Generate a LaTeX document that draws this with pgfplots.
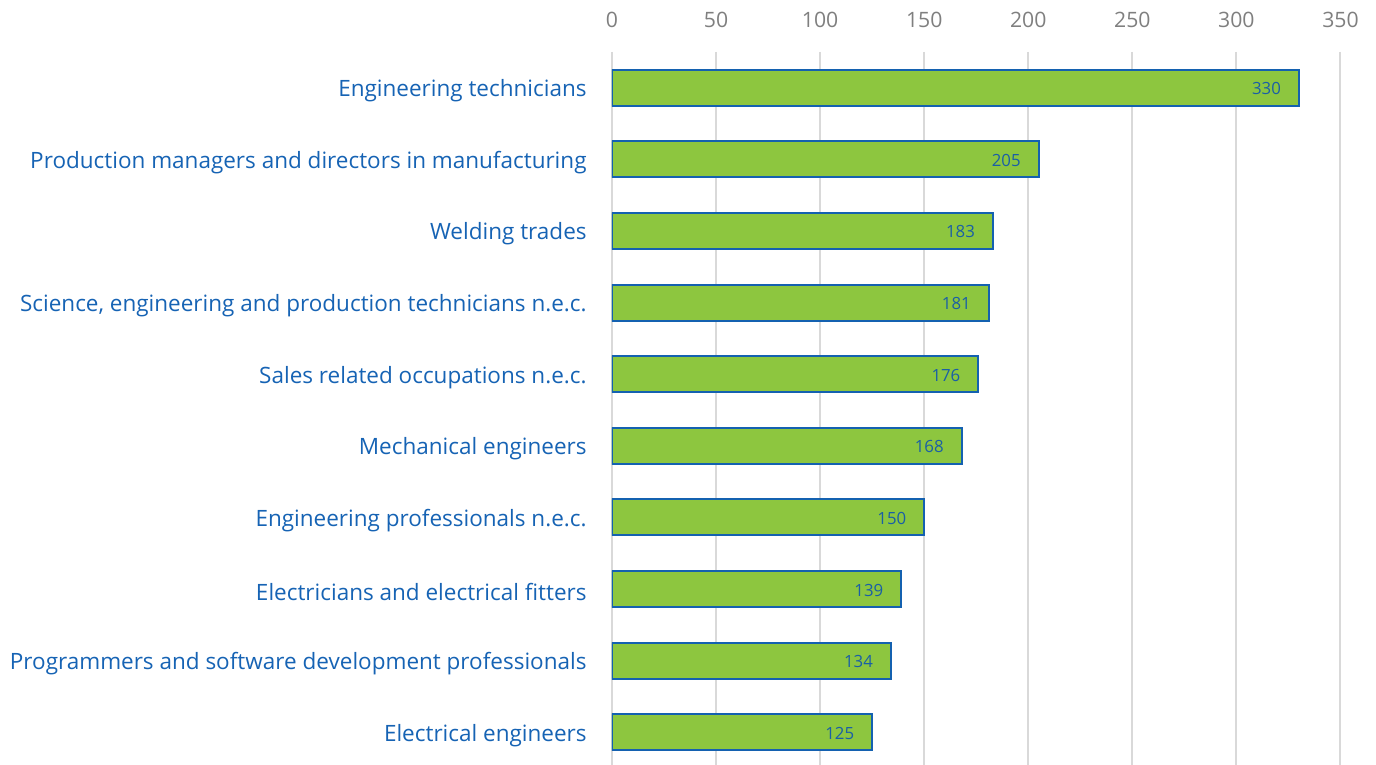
\documentclass[border=0pt]{standalone}
\usepackage{pgfplots}
\pgfplotsset{compat=1.18}
\usepackage{fontspec}
\setmainfont{Open Sans}
\definecolor{barfill}{HTML}{8DC63F}
\definecolor{barline}{HTML}{1461B0}
\definecolor{labblue}{HTML}{1663B4}
\definecolor{datblue}{HTML}{1A5FA6}
\definecolor{gridgray}{HTML}{D9D9D9}
\definecolor{tickgray}{HTML}{7F7F7F}
\begin{document}
\begin{tikzpicture}
\begin{axis}[
  name=ax,
  xbar, bar width=18pt,
  scale only axis, width=364.25pt, height=358pt,
  xmin=0, xmax=350, ymin=-0.5, ymax=9.5,
  y dir=reverse,
  xtick={0,50,...,350},
  ytick={0,...,9},
  yticklabels={Engineering technicians,
    Production managers and directors in manufacturing,
    Welding trades,
    {Science, engineering and production technicians n.e.c.},
    Sales related occupations n.e.c.,
    Mechanical engineers,
    Engineering professionals n.e.c.,
    Electricians and electrical fitters,
    Programmers and software development professionals,
    Electrical engineers},
  xticklabel pos=upper,
  axis line style={draw=none},
  major tick length=0pt,
  xmajorgrids, grid style={gridgray, line width=1pt},
  /pgf/number format/assume math mode=true,
  xticklabel style={font=\fontsize{10.6}{12}\selectfont, text=tickgray, anchor=base, inner sep=0pt, yshift=12pt},
  yticklabel style={font=\fontsize{11.25}{13}\selectfont, text=labblue, anchor=east, inner sep=0pt, xshift=-12.5pt, yshift=-1.5pt},
  nodes near coords,
  every node near coord/.append style={font=\fontsize{8.4}{10}\selectfont, text=datblue, anchor=east, inner sep=0pt, xshift=-8.5pt, yshift=-0.5pt},
]
\addplot[fill=barfill, draw=barline, line width=1pt] coordinates {
  (330,0) (205,1) (183,2) (181,3) (176,4) (168,5) (150,6) (139,7) (134,8) (125,9)};
\end{axis}
\pgfresetboundingbox
\path[use as bounding box] ([xshift=-306pt,yshift=1.5pt]ax.south west) rectangle ([xshift=382pt,yshift=26pt]ax.north west);
\end{tikzpicture}
\end{document}
